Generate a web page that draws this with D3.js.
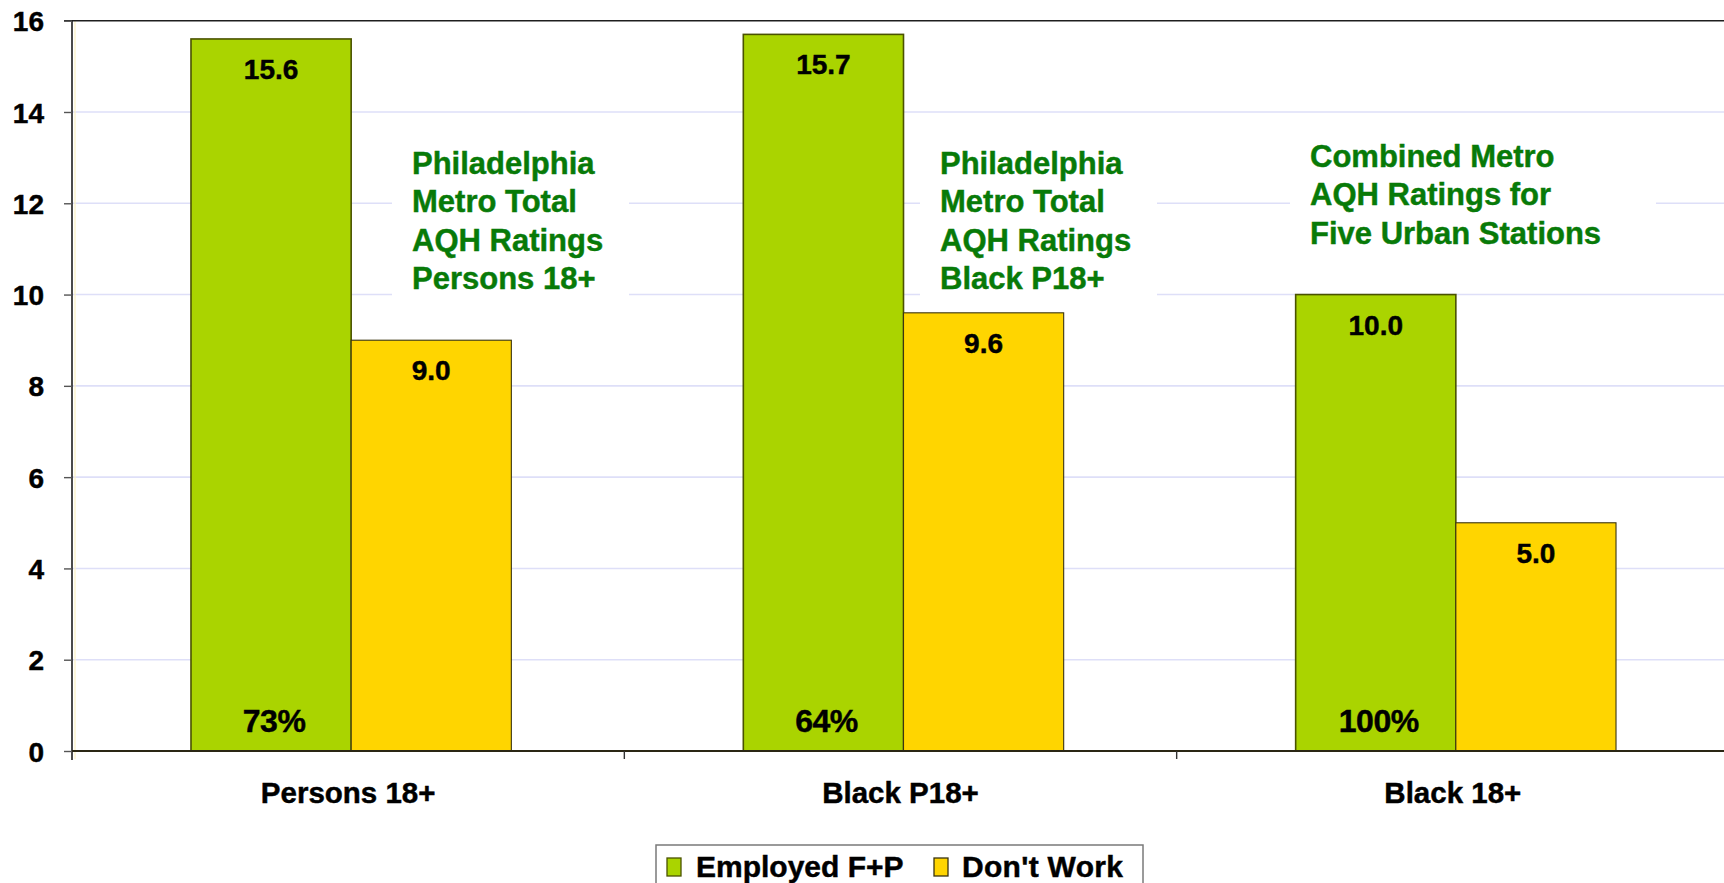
<!DOCTYPE html>
<html>
<head>
<meta charset="utf-8">
<script src="https://cdn.jsdelivr.net/npm/d3@7"></script>
<style>
  html, body { margin: 0; padding: 0; background: #ffffff; }
  svg { display: block; font-family: "Liberation Sans", Arial, Helvetica, sans-serif; }
</style>
</head>
<body>
<svg id="chart" width="1724" height="883"></svg>
<script>
// ---- data ----
const categories = ["Persons 18+", "Black P18+", "Black 18+"];
const seriesNames = ["Employed F+P", "Don't Work"];
const employed = [15.6, 15.7, 10.0];
const dontWork = [9.0, 9.6, 5.0];
const employedShare = ["73%", "64%", "100%"];
const yTicks = [0, 2, 4, 6, 8, 10, 12, 14, 16];
const notes = [
  ["Philadelphia", "Metro Total", "AQH Ratings", "Persons 18+"],
  ["Philadelphia", "Metro Total", "AQH Ratings", "Black P18+"],
  ["Combined Metro", "AQH Ratings for", "Five Urban Stations"]
];

// ---- styling ----
const colors = ["#AAD400", "#FFD500"];
const strokes = ["#4a5200", "#3a3410"];
const noteGreen = "#087A08";

const svg = d3.select("#chart");
const W = 1724, H = 883;
const plot = { left: 72, right: 1729, top: 20.7, bottom: 751 };

const x0 = d3.scaleBand().domain(categories).range([plot.left, plot.right]).padding(0);
const barW = x0.bandwidth() * 0.29;
const x1 = d3.scaleBand().domain(seriesNames).range([0, barW * 2]).padding(0);
const y = d3.scaleLinear().domain([0, 16]).range([plot.bottom, plot.top]);

const rows = categories.map((c, i) => ({ cat: c, vals: [employed[i], dontWork[i]], share: employedShare[i] }));
const groupX = c => x0(c) + x0.bandwidth() / 2 - barW + 3;

// heavier glyphs, closer to the bold face used in the chart
const heavy = sel => sel.attr("stroke", function () { return d3.select(this).attr("fill"); })
  .attr("stroke-width", 0.45).attr("paint-order", "stroke");

// gridlines
svg.append("g")
  .selectAll("line")
  .data(yTicks.filter(t => t > 0 && t < 16))
  .join("line")
  .attr("x1", plot.left).attr("x2", W)
  .attr("y1", d => y(d)).attr("y2", d => y(d))
  .attr("stroke", "#dedff8").attr("stroke-width", 1.6);

// faint inner edge beside the value axis
svg.append("line")
  .attr("x1", plot.left + 3).attr("x2", plot.left + 3)
  .attr("y1", plot.top).attr("y2", plot.bottom + 8)
  .attr("stroke", "#fbf2c4").attr("stroke-width", 1.2);

// annotation boxes (white panels that sit over the gridlines)
const noteLayout = [
  { left: 392, width: 237, top: 138 },
  { left: 920, width: 237, top: 138 },
  { left: 1290, width: 366, top: 131 }
];
const lineH = 38.4, noteFont = 31, notePad = 20;
const noteG = svg.append("g");
notes.forEach((lines, i) => {
  const L = noteLayout[i];
  const firstBase = L.top + 36;
  const h = (firstBase - L.top) + (lines.length - 1) * lineH + 14;
  noteG.append("rect")
    .attr("x", L.left).attr("y", L.top)
    .attr("width", L.width).attr("height", h)
    .attr("fill", "#ffffff");
  const t = noteG.append("text")
    .attr("x", L.left + notePad)
    .attr("y", firstBase)
    .attr("fill", noteGreen)
    .attr("font-size", noteFont)
    .attr("font-weight", "bold")
    .call(heavy);
  t.selectAll("tspan").data(lines).join("tspan")
    .attr("x", L.left + notePad)
    .attr("dy", (d, k) => k === 0 ? 0 : lineH)
    .text(d => d);
});

// bars
const groups = svg.append("g").selectAll("g")
  .data(rows).join("g")
  .attr("transform", d => `translate(${groupX(d.cat)},0)`);

groups.selectAll("rect")
  .data(d => d.vals.map((v, k) => ({ v, k, name: seriesNames[k] })))
  .join("rect")
  .attr("x", d => x1(d.name))
  .attr("y", d => y(d.v))
  .attr("width", x1.bandwidth())
  .attr("height", d => y(0) - y(d.v))
  .attr("fill", d => colors[d.k])
  .attr("stroke", d => strokes[d.k])
  .attr("stroke-width", d => d.k === 0 ? 1.6 : 1.1);

// value labels near the top of each bar
groups.selectAll("text.val")
  .data(d => d.vals.map((v, k) => ({ v, k, name: seriesNames[k] })))
  .join("text")
  .attr("class", "val")
  .attr("x", d => x1(d.name) + x1.bandwidth() / 2)
  .attr("y", d => y(d.v) + 40)
  .attr("text-anchor", "middle")
  .attr("font-size", 28)
  .attr("font-weight", "bold")
  .attr("fill", "#000")
  .call(heavy)
  .text(d => d3.format(".1f")(d.v));

// share labels at the foot of the employed bars
groups.append("text")
  .attr("x", x1(seriesNames[0]) + x1.bandwidth() / 2 + 3)
  .attr("y", plot.bottom - 19.5)
  .attr("text-anchor", "middle")
  .attr("font-size", 32)
  .attr("font-weight", "bold")
  .attr("letter-spacing", -0.5)
  .attr("fill", "#000")
  .call(heavy)
  .text(d => d.share);

// frame top edge
svg.append("line")
  .attr("x1", plot.left - 8).attr("x2", W)
  .attr("y1", plot.top).attr("y2", plot.top)
  .attr("stroke", "#1e1e1e").attr("stroke-width", 1.6);

// y axis
const yAxis = svg.append("g")
  .attr("transform", `translate(${plot.left},0)`)
  .call(d3.axisLeft(y).tickValues(yTicks).tickSize(8).tickPadding(20).tickFormat(d3.format("d")));
yAxis.select(".domain").attr("stroke", "#1e1e1e").attr("stroke-width", 1.6)
  .attr("d", `M0,${plot.top}V${plot.bottom + 9}`);
yAxis.selectAll(".tick line").attr("stroke", "#555").attr("stroke-width", 1.4);
yAxis.selectAll(".tick text")
  .attr("font-size", 28).attr("font-weight", "bold").attr("fill", "#000")
  .attr("font-family", "'Liberation Sans', Arial, sans-serif")
  .attr("dy", "0.36em")
  .call(heavy);

// x axis
const xAxis = svg.append("g")
  .attr("transform", `translate(0,${plot.bottom})`)
  .call(d3.axisBottom(x0).tickSize(0).tickPadding(0));
xAxis.select(".domain").attr("stroke", "#2a2614").attr("stroke-width", 1.8)
  .attr("d", `M${plot.left},0H${W}`);
xAxis.selectAll(".tick text")
  .attr("y", 52)
  .attr("dy", 0)
  .attr("font-size", 29.5).attr("font-weight", "bold").attr("fill", "#000")
  .attr("font-family", "'Liberation Sans', Arial, sans-serif")
  .call(heavy);
// category separators
svg.append("g").selectAll("line")
  .data(categories.slice(1))
  .join("line")
  .attr("x1", d => x0(d)).attr("x2", d => x0(d))
  .attr("y1", plot.bottom).attr("y2", plot.bottom + 8)
  .attr("stroke", "#333").attr("stroke-width", 1.4);

// legend
const leg = svg.append("g");
leg.append("rect")
  .attr("x", 656).attr("y", 845).attr("width", 487).attr("height", 60)
  .attr("fill", "#fff").attr("stroke", "#7a7a7a").attr("stroke-width", 1.5);
const legItems = [
  { name: seriesNames[0], sx: 667, tx: 696 },
  { name: seriesNames[1], sx: 934, tx: 962 }
];
legItems.forEach((it, k) => {
  leg.append("rect")
    .attr("x", it.sx).attr("y", 858).attr("width", 14).attr("height", 18)
    .attr("fill", colors[k]).attr("stroke", strokes[k]).attr("stroke-width", 1.3);
  leg.append("text")
    .attr("x", it.tx).attr("y", 877)
    .attr("font-size", 30).attr("font-weight", "bold").attr("fill", "#000")
    .attr("letter-spacing", k === 1 ? 0.3 : 0)
    .call(heavy)
    .text(it.name);
});
</script>
</body>
</html>
